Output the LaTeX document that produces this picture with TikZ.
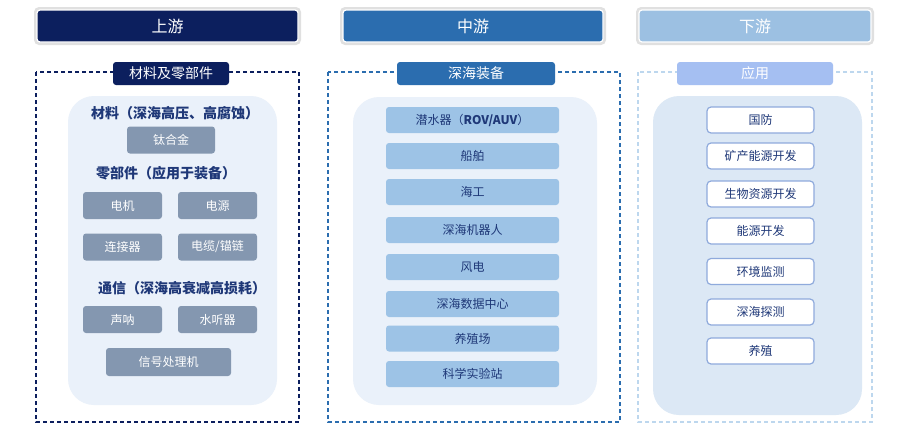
\documentclass[tikz,border=0pt]{standalone}
\usepackage{fontspec}
\setmainfont{Noto Sans CJK SC}
\definecolor{navy}{HTML}{0C1F5E}
\definecolor{midblue}{HTML}{2B6DAF}
\definecolor{lighthdr}{HTML}{9CC0E2}
\definecolor{tabright}{HTML}{A5BFF2}
\definecolor{innerA}{HTML}{EAF1FA}
\definecolor{innerC}{HTML}{DCE8F5}
\definecolor{greybox}{HTML}{8497B0}
\definecolor{miditem}{HTML}{9DC3E6}
\definecolor{txtdark}{HTML}{1F3878}
\definecolor{rborder}{HTML}{8FAADC}
\definecolor{ldash}{HTML}{BDD7EE}
\begin{document}
\begin{tikzpicture}[x=1pt,y=-1pt,
  hdr/.style={rounded corners=3pt, minimum width=#1, minimum height=32pt, inner sep=0pt,
    text=white, font=\fontsize{16}{16}\selectfont, draw=white, line width=1.2pt},
  halo/.style={rounded corners=5pt, fill=black!12},
  tab/.style={rounded corners=3pt, minimum width=#1, minimum height=23pt, inner sep=0pt,
    text=white, font=\fontsize{14}{14}\selectfont},
  frame/.style={dash pattern=on 4pt off 3pt, line width=1.3pt},
  inner/.style={rounded corners=26pt},
  gbox/.style={rounded corners=3pt, fill=greybox, text=white, minimum width=#1,
    minimum height=27pt, inner sep=0pt, font=\fontsize{12}{12}\selectfont},
  mbox/.style={rounded corners=3pt, fill=miditem, text=txtdark, minimum width=173pt,
    minimum height=26pt, inner sep=0pt, font=\fontsize{12}{12}\selectfont},
  rbox/.style={rounded corners=4pt, fill=white, draw=rborder, line width=1.2pt, text=txtdark,
    minimum width=107pt, minimum height=26pt, inner sep=0pt, font=\fontsize{12}{12}\selectfont},
  lbl/.style={text=txtdark, inner sep=0pt, font=\fontsize{14}{14}\selectfont\bfseries}
]
\useasboundingbox (0,0) rectangle (904,434);
\fill[white] (0,0) rectangle (904,434);

% header halos
\fill[halo] (34,7) rectangle (301,45);
\fill[halo] (340,7) rectangle (606,45);
\fill[halo] (636,7) rectangle (874,45);
% headers
\node[hdr=261pt, fill=navy] (hU) at (167.5,26) {上游};
\node[hdr=260pt, fill=midblue] (hM) at (473,26) {中游};
\node[hdr=232pt, fill=lighthdr] (hD) at (755,26) {下游};

% frames
\draw[frame, draw=navy] (36,72) rectangle (299,422);
\draw[frame, draw=midblue] (328,72) rectangle (620,422);
\draw[frame, draw=ldash] (638,72) rectangle (872,422);

% inner boxes
\fill[inner, fill=innerA] (68,96) rectangle (277,405);
\fill[inner, fill=innerA] (353,97) rectangle (597,405);
\fill[inner, fill=innerC] (653,96) rectangle (862,415);

% tabs
\node[tab=116pt, fill=navy] (tU) at (171,73.5) {材料及零部件};
\node[tab=158pt, fill=midblue] (tM) at (476,73.5) {深海装备};
\node[tab=156pt, fill=tabright] (tD) at (755,73.5) {应用};

% left column
\node[lbl] (l1) at (175,113) {材料（深海高压、高腐蚀）};
\node[gbox=88pt] (g1) at (171,140) {钛合金};
\node[lbl] (l2) at (166,173) {零部件（应用于装备）};
\node[gbox=79pt] (g2) at (122.5,205.5) {电机};
\node[gbox=79pt] (g3) at (217.5,205.5) {电源};
\node[gbox=79pt] (g4) at (122.5,247) {连接器};
\node[gbox=79pt] (g5) at (217.5,247) {电缆/锚链};
\node[lbl] (l3) at (182,288) {通信（深海高衰减高损耗）};
\node[gbox=79pt] (g6) at (122.5,319.5) {声呐};
\node[gbox=79pt] (g7) at (217.5,319.5) {水听器};
\node[gbox=125pt, minimum height=28pt] (g8) at (168.5,362) {信号处理机};

% middle column
\node[mbox] (m1) at (472.5,120) {潜水器（\textbf{ROV/AUV}）};
\node[mbox] (m2) at (472.5,156) {船舶};
\node[mbox] (m3) at (472.5,192) {海工};
\node[mbox] (m4) at (472.5,230) {深海机器人};
\node[mbox] (m5) at (472.5,267) {风电};
\node[mbox] (m6) at (472.5,304) {深海数据中心};
\node[mbox] (m7) at (472.5,338.5) {养殖场};
\node[mbox] (m8) at (472.5,374) {科学实验站};

% right column
\node[rbox] (r1) at (760.5,120) {国防};
\node[rbox] (r2) at (760.5,156) {矿产能源开发};
\node[rbox] (r3) at (760.5,194) {生物资源开发};
\node[rbox] (r4) at (760.5,231) {能源开发};
\node[rbox] (r5) at (760.5,271.5) {环境监测};
\node[rbox] (r6) at (760.5,312) {深海探测};
\node[rbox] (r7) at (760.5,351) {养殖};
\end{tikzpicture}
\end{document}
